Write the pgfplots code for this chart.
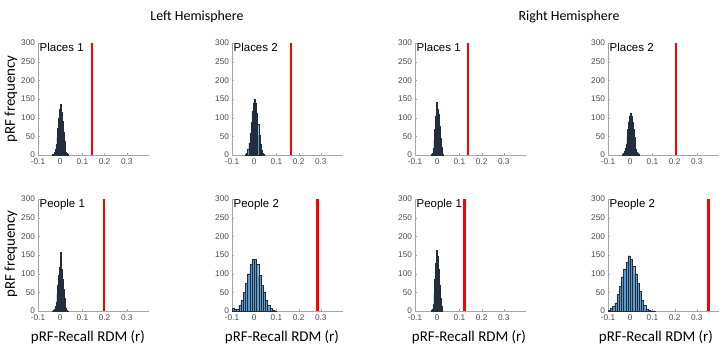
\documentclass[border=0pt]{standalone}
\usepackage{pgfplots}
\pgfplotsset{compat=1.18}
\usepackage{fontspec}
\setmainfont{Liberation Sans}
\newfontfamily\carlito{Carlito}
\definecolor{histblue}{RGB}{90,155,205}
\definecolor{histedge}{RGB}{35,45,60}
\pgfplotsset{
  panel/.style={
    scale only axis, width=111bp, height=112bp,
    xmin=-0.1, xmax=0.4, ymin=0, ymax=300,
    axis x line*=bottom, axis y line*=left,
    axis line style={-, black!35, line width=0.6bp},
    xtick={-0.1,0,0.1,0.2,0.3}, xticklabels={-0.1,0,0.1,0.2,0.3},
    ytick={0,50,100,150,200,250,300}, yticklabels={0,50,100,150,200,250,300},
    tick label style={font=\fontsize{8.3}{9}\selectfont, text=black!70},
    major tick length=2bp, tick align=inside,
    tick style={black!35},
    xticklabel style={yshift=-0.5bp},
    yticklabel style={xshift=0.5bp},
    clip=false,
  },
  histfill/.style={const plot, fill=histblue, draw=none},
  histedge/.style={ybar interval, fill=none, draw=histedge, line width=0.25bp},
  redline/.style={red, line width=2.4bp},
}
\tikzset{plabel/.style={anchor=north west, inner sep=0pt, font=\fontsize{11.5}{12}\selectfont, xshift=1.5bp}}
\begin{document}
\begin{tikzpicture}
\path[use as bounding box] (0bp,0bp) rectangle (725bp,349bp);
% titles
\node[font=\carlito\fontsize{14}{16}\selectfont] at (197bp,332bp) {Left Hemisphere};
\node[font=\carlito\fontsize{14}{16}\selectfont] at (569bp,332bp) {Right Hemisphere};
\node[rotate=90, font=\carlito\fontsize{15}{17}\selectfont] at (11bp,250bp) {pRF frequency};
\node[rotate=90, font=\carlito\fontsize{15}{17}\selectfont] at (11bp,95bp) {pRF frequency};
\node[font=\carlito\fontsize{15}{17}\selectfont] at (88bp,12bp) {pRF-Recall RDM (r)};
\node[font=\carlito\fontsize{15}{17}\selectfont] at (282bp,12bp) {pRF-Recall RDM (r)};
\node[font=\carlito\fontsize{15}{17}\selectfont] at (469bp,12bp) {pRF-Recall RDM (r)};
\node[font=\carlito\fontsize{15}{17}\selectfont] at (656bp,12bp) {pRF-Recall RDM (r)};

% ---- Left, Places 1
\begin{axis}[panel, at={(38bp,194bp)}, anchor=south west]
\pgfplotstableread{
x y
-0.036 1
-0.032 3
-0.028 7
-0.024 15
-0.020 28
-0.016 48
-0.012 72
-0.008 98
-0.004 122
0.000 135
0.004 115
0.008 90
0.012 62
0.016 38
0.020 20
0.024 9
0.028 4
0.032 1
0.036 0
}\tA
\addplot[histfill] table {\tA} \closedcycle;
\addplot[histedge] table {\tA};
\addplot[redline] coordinates {(0.143,0) (0.143,300)};
\node[plabel] at (rel axis cs:0,1) {Places 1};
\end{axis}
% ---- Left, Places 2
\begin{axis}[panel, at={(232bp,194bp)}, anchor=south west]
\pgfplotstableread{
x y
-0.040 2
-0.035 6
-0.030 15
-0.025 32
-0.020 58
-0.015 88
-0.010 118
-0.005 140
0.000 150
0.005 138
0.010 112
0.015 82
0.020 52
0.025 28
0.030 13
0.035 5
0.040 2
0.045 0
}\tB
\addplot[histfill] table {\tB} \closedcycle;
\addplot[histedge] table {\tB};
\addplot[redline] coordinates {(0.165,0) (0.165,300)};
\node[plabel] at (rel axis cs:0,1) {Places 2};
\end{axis}
% ---- Right, Places 1
\begin{axis}[panel, at={(415bp,194bp)}, anchor=south west]
\pgfplotstableread{
x y
-0.028 2
-0.024 6
-0.020 18
-0.016 40
-0.012 70
-0.008 105
-0.004 142
0.000 122
0.004 110
0.008 78
0.012 45
0.016 22
0.020 9
0.024 3
0.028 0
}\tC
\addplot[histfill] table {\tC} \closedcycle;
\addplot[histedge] table {\tC};
\addplot[redline] coordinates {(0.140,0) (0.140,300)};
\node[plabel] at (rel axis cs:0,1) {Places 1};
\end{axis}
% ---- Right, Places 2
\begin{axis}[panel, at={(608bp,194bp)}, anchor=south west]
\pgfplotstableread{
x y
-0.036 2
-0.032 5
-0.028 10
-0.024 18
-0.020 30
-0.016 48
-0.012 68
-0.008 88
-0.004 105
0.000 113
0.004 104
0.008 88
0.012 68
0.016 48
0.020 30
0.024 17
0.028 9
0.032 4
0.036 1
0.040 0
}\tD
\addplot[histfill] table {\tD} \closedcycle;
\addplot[histedge] table {\tD};
\addplot[redline] coordinates {(0.205,0) (0.205,300)};
\node[plabel] at (rel axis cs:0,1) {Places 2};
\end{axis}
% ---- Left, People 1
\begin{axis}[panel, at={(38bp,38bp)}, anchor=south west]
\pgfplotstableread{
x y
-0.036 1
-0.032 3
-0.028 6
-0.024 13
-0.020 25
-0.016 45
-0.012 70
-0.008 95
-0.004 118
0.000 157
0.004 112
0.008 85
0.012 58
0.016 35
0.020 18
0.024 8
0.028 3
0.032 1
0.036 0
}\tE
\addplot[histfill] table {\tE} \closedcycle;
\addplot[histedge] table {\tE};
\addplot[redline] coordinates {(0.196,0) (0.196,300)};
\node[plabel] at (rel axis cs:0,1) {People 1};
\end{axis}
% ---- Left, People 2
\begin{axis}[panel, at={(232bp,38bp)}, anchor=south west]
\pgfplotstableread{
x y
-0.10 7
-0.09 4
-0.08 6
-0.07 15
-0.06 30
-0.05 50
-0.04 75
-0.03 100
-0.02 125
-0.01 138
0.00 138
0.01 125
0.02 95
0.03 70
0.04 50
0.05 30
0.06 15
0.07 8
0.08 3
0.09 1
0.10 0
}\tF
\addplot[histfill] table {\tF} \closedcycle;
\addplot[histedge] table {\tF};
\addplot[redline] coordinates {(0.285,0) (0.285,300)};
\node[plabel] at (rel axis cs:0,1) {People 2};
\end{axis}
% ---- Right, People 1
\begin{axis}[panel, at={(415bp,38bp)}, anchor=south west]
\pgfplotstableread{
x y
-0.028 2
-0.024 6
-0.020 18
-0.016 45
-0.012 85
-0.008 128
-0.004 162
0.000 148
0.004 112
0.008 70
0.012 35
0.016 14
0.020 4
0.024 0
}\tG
\addplot[histfill] table {\tG} \closedcycle;
\addplot[histedge] table {\tG};
\addplot[redline] coordinates {(0.123,0) (0.123,300)};
\node[plabel] at (rel axis cs:0,1) {People 1};
\end{axis}
% ---- Right, People 2
\begin{axis}[panel, at={(608bp,38bp)}, anchor=south west]
\pgfplotstableread{
x y
-0.10 2
-0.09 8
-0.08 12
-0.07 22
-0.06 45
-0.05 66
-0.04 92
-0.03 112
-0.02 130
-0.01 148
0.00 138
0.01 120
0.02 100
0.03 75
0.04 52
0.05 30
0.06 15
0.07 6
0.08 3
0.09 1
0.10 1
0.11 0
}\tH
\addplot[histfill] table {\tH} \closedcycle;
\addplot[histedge] table {\tH};
\addplot[redline] coordinates {(0.352,0) (0.352,300)};
\node[plabel] at (rel axis cs:0,1) {People 2};
\end{axis}
\end{tikzpicture}
\end{document}
